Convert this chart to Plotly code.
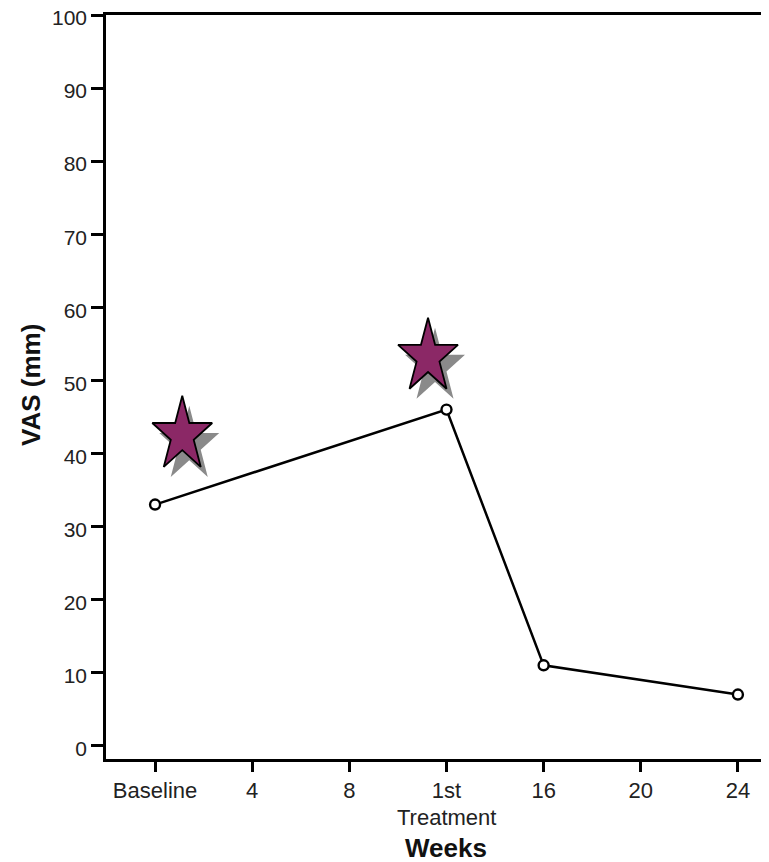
import numpy as np
import plotly.graph_objects as go

# ---- data ----
categories = ["Baseline", "4", "8", "1st", "16", "20", "24"]
point_cats = ["Baseline", "1st", "16", "24"]
vas_values = [33, 46, 11, 7]
star_cats_pos = [0.28, 2.81]      # category-axis positions of the star markers
star_values = [42.5, 53.2]
y_ticks = [0, 10, 20, 30, 40, 50, 60, 70, 80, 90, 100]

# ---- layout geometry (page body has an 8px margin) ----
OFF = 8
W, H = 769 - OFF, 862 - OFF
ml, mr, mt = 106 - OFF, 0, 15 - OFF
ph = 744
mb = H - mt - ph
xr = [-0.505, 6.32]
yr = [-1.82, 100]
pw = W - ml - mr
px_x = pw / (xr[1] - xr[0])
px_y = ph / (yr[1] - yr[0])
y_bottom = 759  # bottom axis in page pixels

xpos = {c: i for i, c in enumerate(categories)}
px_points = [xpos[c] for c in point_cats]

fig = go.Figure()

def star_poly(cx, cy, rx_px, ry_px, dx_px=0, dy_px=0):
    xs, ys = [], []
    for k in range(11):
        ang = np.pi / 2 + k * np.pi / 5
        r = 1.0 if k % 2 == 0 else 0.382
        xs.append(cx + (r * rx_px * np.cos(ang) + dx_px) / px_x)
        ys.append(cy + (r * ry_px * np.sin(ang) - dy_px) / px_y)
    return xs, ys

for sx, sy in zip(star_cats_pos, star_values):
    xs, ys = star_poly(sx, sy, 31.5, 39.3, 7, 10)
    fig.add_trace(go.Scatter(x=xs, y=ys, mode="lines", fill="toself",
                             fillcolor="#8a8a8a", line=dict(width=0, color="#8a8a8a"),
                             hoverinfo="skip", showlegend=False))
for sx, sy in zip(star_cats_pos, star_values):
    xs, ys = star_poly(sx, sy, 31.5, 39.3)
    fig.add_trace(go.Scatter(x=xs, y=ys, mode="lines", fill="toself",
                             fillcolor="#8B2866", line=dict(width=1.8, color="black"),
                             hoverinfo="skip", showlegend=False))

fig.add_trace(go.Scatter(
    x=px_points, y=vas_values, mode="lines+markers",
    line=dict(color="black", width=2.5),
    marker=dict(symbol="circle", size=10, color="white",
                line=dict(color="black", width=2.4)),
    showlegend=False))

font_family = "Liberation Sans, Arial, sans-serif"

fig.update_layout(
    width=W, height=H,
    margin=dict(l=ml, r=mr, t=mt, b=mb, pad=0, autoexpand=False),
    paper_bgcolor="white", plot_bgcolor="white",
    font=dict(family=font_family, color="#1a1a1a"),
    xaxis=dict(range=xr, tickmode="array", tickvals=list(range(len(categories))),
               ticktext=categories, showgrid=False, zeroline=False,
               showline=True, linecolor="black", linewidth=2.5, mirror=True,
               ticks="outside", ticklen=10, tickwidth=2.5, tickcolor="black",
               ticklabeloverflow="allow", automargin=False,
               tickfont=dict(size=22, color="#222")),
    yaxis=dict(range=yr, tickmode="array", tickvals=y_ticks,
               showgrid=False, zeroline=False,
               showline=True, linecolor="black", linewidth=2.5, mirror=False,
               ticks="outside", ticklen=12, tickwidth=2.5, tickcolor="black",
               ticklabeloverflow="allow", automargin=False, ticklabelshift=3,
               tickfont=dict(size=21, color="#222")),
    annotations=[
        dict(text="Treatment", x=3, xref="x", y=-(817 - y_bottom) / ph, yref="paper",
             showarrow=False, xanchor="center", yanchor="middle",
             font=dict(size=22, color="#222")),
        dict(text="<b>Weeks</b>", x=3, xref="x", y=-(848 - y_bottom) / ph, yref="paper",
             showarrow=False, xanchor="center", yanchor="middle",
             font=dict(size=26, color="#111")),
        dict(text="<b>VAS (mm)</b>", x=(31 - 106) / pw, xref="paper",
             y=(y_bottom - 385) / ph, yref="paper", textangle=-90,
             showarrow=False, xanchor="center", yanchor="middle",
             font=dict(size=26, color="#111")),
    ],
)

fig.write_html("out.html")
